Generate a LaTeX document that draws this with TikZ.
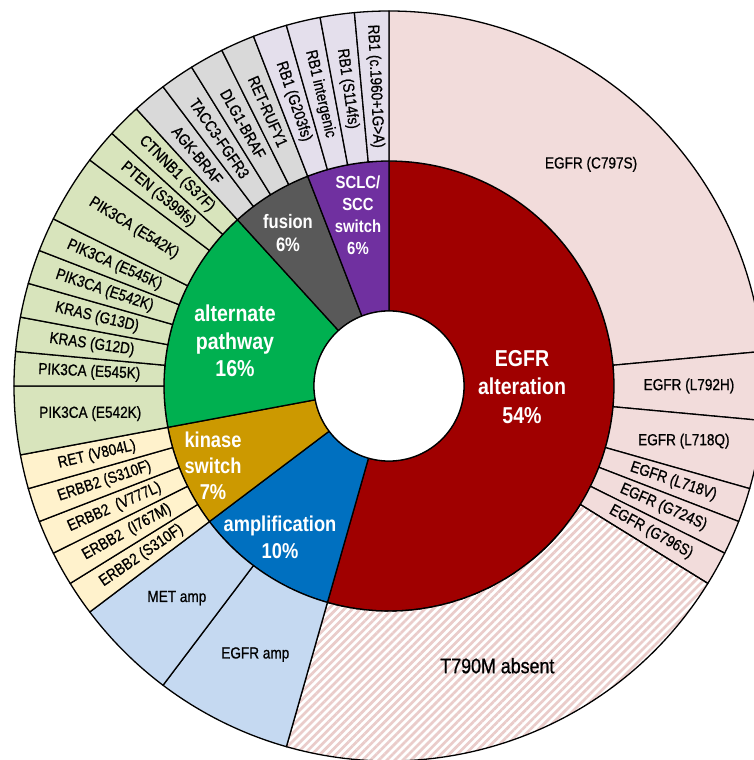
\documentclass[tikz,border=0pt]{standalone}
\usepackage{fontspec}
\setmainfont{Liberation Sans}[FakeStretch=0.85]
\newfontfamily\mutfont{Liberation Sans}[FakeStretch=0.85, FakeBold=0.8]
\usetikzlibrary{patterns.meta}

% colours: dark for the inner ring, light for the outer ring
\definecolor{egfrdark}{RGB}{160,0,0}
\definecolor{egfrlight}{RGB}{242,220,219}
\definecolor{hatchpink}{RGB}{234,204,202}
\definecolor{ampdark}{RGB}{0,112,192}
\definecolor{amplight}{RGB}{197,217,241}
\definecolor{kindark}{RGB}{204,153,0}
\definecolor{kinlight}{RGB}{255,242,204}
\definecolor{altdark}{RGB}{0,176,80}
\definecolor{altlight}{RGB}{216,228,188}
\definecolor{fusdark}{RGB}{89,89,89}
\definecolor{fuslight}{RGB}{217,217,217}
\definecolor{scldark}{RGB}{112,48,160}
\definecolor{scllight}{RGB}{228,223,236}

% one ring segment: style, inner radius, outer radius, first unit, last unit (68 units round)
\newcommand{\ringseg}[5]{%
  \pgfmathsetmacro{\angA}{90-(#4)/68*360}%
  \pgfmathsetmacro{\angB}{90-(#5)/68*360}%
  \draw[#1] (\angA:#2pt) arc[start angle=\angA, end angle=\angB, radius=#2pt]
    -- (\angB:#3pt) arc[start angle=\angB, end angle=\angA, radius=#3pt] -- cycle;%
}

\tikzset{
  seg/.style={draw=black, line width=1.3pt, line join=round},
  hatched/.style={pattern={Lines[angle=45,distance=5.7pt,line width=2.7pt]}, pattern color=hatchpink},
  inlab/.style={text=white, align=center, inner sep=0pt},
  outlab/.style={font=\mutfont\fontsize{16}{18}\selectfont, inner sep=0pt},
}

\begin{document}
\begin{tikzpicture}[x=1pt,y=1pt]
    % Page frame, the outer ring runs off the right and bottom edges
    \useasboundingbox (-389,-374) rectangle (365,386);
    \fill[white] (-389,-374) rectangle (365,386);
    \clip (-389,-374) rectangle (365,386);

    % Inner ring
    \ringseg{seg,fill=egfrdark}{75}{225}{0}{37}
    \ringseg{seg,fill=ampdark}{75}{225}{37}{44}
    \ringseg{seg,fill=kindark}{75}{225}{44}{49}
    \ringseg{seg,fill=altdark}{75}{225}{49}{60}
    \ringseg{seg,fill=fusdark}{75}{225}{60}{64}
    \ringseg{seg,fill=scldark}{75}{225}{64}{68}
    \filldraw[seg, fill=white] (0,0) circle[radius=75];

    % Outer ring, one loop per group
    \foreach \sa/\sb in {0/16,16/18,18/20,20/21,21/22,22/23} {
        \ringseg{seg,fill=egfrlight}{225}{375}{\sa}{\sb}
    }
    \ringseg{seg,hatched}{225}{375}{23}{37} % T790M absent
    \foreach \sa/\sb in {37/41,41/44} {
        \ringseg{seg,fill=amplight}{225}{375}{\sa}{\sb}
    }
    \foreach \sa in {44,...,48} {
        \ringseg{seg,fill=kinlight}{225}{375}{\sa}{\sa+1}
    }
    \foreach \sa/\sb in {49/51,51/52,52/53,53/54,54/55,55/56,56/58,58/59,59/60} {
        \ringseg{seg,fill=altlight}{225}{375}{\sa}{\sb}
    }
    \foreach \sa in {60,...,63} {
        \ringseg{seg,fill=fuslight}{225}{375}{\sa}{\sa+1}
    }
    \foreach \sa in {64,...,67} {
        \ringseg{seg,fill=scllight}{225}{375}{\sa}{\sa+1}
    }

    % Inner labels
    \node[inlab, font=\bfseries\fontsize{23}{28.5}\selectfont] (egfr) at (133,-1) {EGFR\\alteration\\54\%};
    \node[inlab, font=\bfseries\fontsize{21.5}{27}\selectfont] (amplif) at (-109,-151) {amplification\\10\%};
    \node[inlab, font=\bfseries\fontsize{21.5}{26}\selectfont] (kinase) at (-176,-80) {kinase\\switch\\7\%};
    \node[inlab, font=\bfseries\fontsize{23}{27.5}\selectfont] (altpath) at (-154,45) {alternate\\pathway\\16\%};
    \node[inlab, font=\bfseries\fontsize{19.5}{23}\selectfont] (fusion) at (-101,153) {fusion\\6\%};
    \node[inlab, font=\bfseries\fontsize{17.5}{22}\selectfont] (sclc) at (-31,171) {SCLC/\\SCC\\switch\\6\%};

    % Outer labels set level
    \node[outlab] (c797s) at ({90-8/68*360}:300) {EGFR (C797S)};
    \node[outlab] (l792h) at ({90-17/68*360}:300) {EGFR (L792H)};
    \node[outlab] (l718q) at ({90-19/68*360}:300) {EGFR (L718Q)};
    \node[outlab, font=\mutfont\fontsize{21}{24}\selectfont] (t790m) at ({90-30/68*360}:300) {T790M absent};
    \node[outlab] (egframp) at ({90-39/68*360}:300) {EGFR amp};
    \node[outlab] (metamp) at ({90-42.5/68*360}:300) {MET amp};
    \node[outlab] (pik3ca) at ({90-50/68*360}:300) {PIK3CA (E542K)};

    % Outer labels set along the radius
    \foreach \sa/\sb/\txt [count=\i] in {
        20/21/EGFR (L718V), 21/22/EGFR (G724S), 22/23/EGFR (G796S),
        44/45/ERBB2 (S310F), 45/46/ERBB2 \ (I767M), 46/47/ERBB2 \ (V777L),
        47/48/ERBB2 (S310F), 48/49/RET (V804L),
        51/52/PIK3CA (E545K), 52/53/KRAS (G12D), 53/54/KRAS (G13D),
        54/55/PIK3CA (E542K), 55/56/PIK3CA (E545K), 56/58/PIK3CA (E542K),
        58/59/PTEN (S399fs), 59/60/CTNNB1 (S37F),
        60/61/AGK-BRAF, 61/62/TACC3-FGFR3, 62/63/DLG1-BRAF, 63/64/RET-RUFY1,
        64/65/RB1 (G203fs), 65/66/RB1 intergenic, 66/67/RB1 (S114fs),
        67/68/RB1 (c.1960+1G>A)} {
        \pgfmathsetmacro{\midang}{90-(\sa+\sb)/136*360}
        \pgfmathsetmacro{\labrot}{\midang < -90 ? \midang+180 : \midang}
        \node[outlab, rotate=\labrot] (mut\i) at (\midang:300) {\txt};
    }
\end{tikzpicture}
\end{document}
